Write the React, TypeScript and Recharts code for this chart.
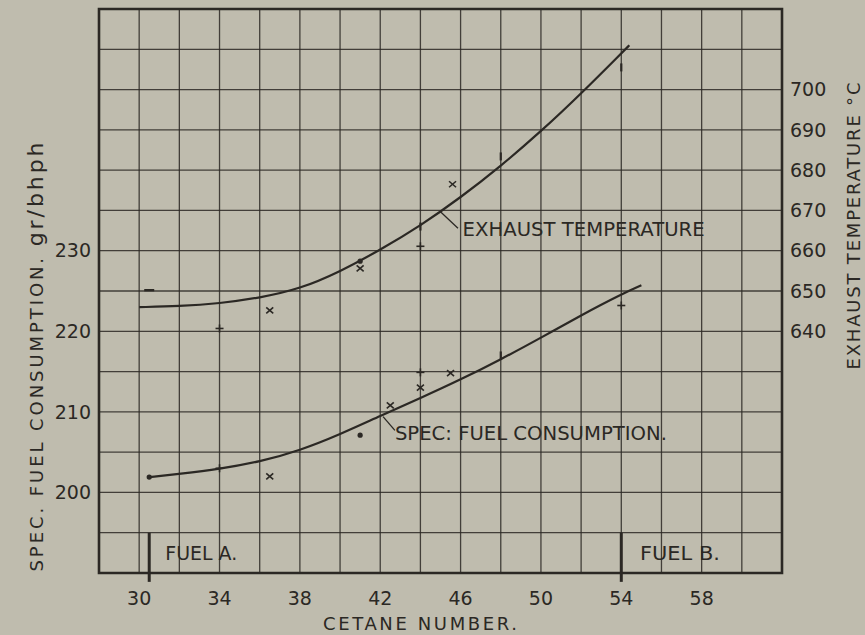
import {
  ComposedChart,
  Line,
  Scatter,
  XAxis,
  YAxis,
  CartesianGrid,
  ReferenceArea,
  ReferenceLine,
  ReferenceDot,
  Label,
} from "recharts";

// axes: grid every 2 cetane units / 5 gr/bhph, labels sparser
const cetaneGrid = [28, 30, 32, 34, 36, 38, 40, 42, 44, 46, 48, 50, 52, 54, 56, 58, 60, 62];
const cetaneLabels = [30, 34, 38, 42, 46, 50, 54, 58];
const sfcGrid = [190, 195, 200, 205, 210, 215, 220, 225, 230, 235, 240, 245, 250, 255, 260];
const sfcLabels = [200, 210, 220, 230];
const tempTicks = [640, 650, 660, 670, 680, 690, 700];

// faired curves
const sfcCurveCetane = [30.5, 32, 34, 36, 38, 40, 42, 44, 46, 48, 50, 52, 54, 55];
const sfcCurveValue = [201.9, 202.3, 202.9, 203.8, 205.2, 207.2, 209.5, 211.7, 214.0, 216.5, 219.2, 222.0, 224.6, 225.7];
const tempCurveCetane = [30, 32, 34, 36, 38, 40, 42, 44, 46, 48, 50, 52, 54, 54.4];
const tempCurveValue = [646.0, 646.2, 646.9, 648.3, 650.5, 654.8, 660.2, 666.2, 673.2, 681.0, 689.6, 699.0, 709.0, 711.0];

// measured points, grouped by the symbol used on the plate
const sfcDotCetane = [30.5, 41];
const sfcDotValue = [201.9, 207.1];
const sfcCrossCetane = [36.5, 42.5, 44, 45.5];
const sfcCrossValue = [202.0, 210.8, 213.0, 214.8];
const sfcPlusCetane = [34, 44, 54];
const sfcPlusValue = [203.0, 214.9, 223.2];
const sfcTickCetane = [48];
const sfcTickValue = [217.0];

const tempDotCetane = [41];
const tempDotValue = [657.4];
const tempCrossCetane = [36.5, 41, 45.6];
const tempCrossValue = [645.2, 655.6, 676.5];
const tempPlusCetane = [34, 44];
const tempPlusValue = [640.7, 661.1];
const tempDashCetane = [30.5];
const tempDashValue = [650.2];
const tempTickCetane = [44, 48, 54];
const tempTickValue = [666.0, 683.4, 705.5];

const fuelA = 30.5;
const fuelB = 54;

const pairs = (xs: number[], ys: number[]) => xs.map((x, i) => ({ x, y: ys[i] }));

const INK = "#2b2824";
const PAPER = "#bfbcae";
const FONT = "'DejaVu Sans', sans-serif";

const Dot = (p: any) => <circle cx={p.cx} cy={p.cy} r={2.6} fill={INK} />;
const Cross = (p: any) => (
  <g stroke={INK} strokeWidth={1.6}>
    <line x1={p.cx - 3.5} y1={p.cy - 3} x2={p.cx + 3.5} y2={p.cy + 3} />
    <line x1={p.cx - 3.5} y1={p.cy + 3} x2={p.cx + 3.5} y2={p.cy - 3} />
  </g>
);
const Plus = (p: any) => (
  <g stroke={INK} strokeWidth={1.6}>
    <line x1={p.cx - 4} y1={p.cy} x2={p.cx + 4} y2={p.cy} />
    <line x1={p.cx} y1={p.cy - 4} x2={p.cx} y2={p.cy + 4} />
  </g>
);
const Tick = (p: any) => (
  <line x1={p.cx} y1={p.cy - 4} x2={p.cx} y2={p.cy + 4} stroke={INK} strokeWidth={2.2} />
);
const Dash = (p: any) => (
  <line x1={p.cx - 5} y1={p.cy} x2={p.cx + 5} y2={p.cy} stroke={INK} strokeWidth={2.4} />
);

const note = (text: string, len: number) => (p: any) => (
  <text
    x={p.cx}
    y={p.cy}
    dy="0.36em"
    fontFamily={FONT}
    fontSize={19}
    fill={INK}
    textLength={len}
    lengthAdjust="spacingAndGlyphs"
  >
    {text}
  </text>
);

const tickStyle = { fontFamily: FONT, fontSize: 19, fill: INK };

export default function App() {
  return (
    <div style={{ position: "absolute", left: 0, top: 0, width: 865, height: 635, background: PAPER }}>
      <ComposedChart width={865} height={635} margin={{ top: 9, right: 0, bottom: 0, left: 0 }}>
        <CartesianGrid stroke={INK} strokeWidth={1.3} strokeOpacity={0.85} />
        <XAxis
          type="number"
          dataKey="x"
          domain={[28, 62]}
          ticks={cetaneGrid}
          interval={0}
          tickFormatter={(v: number) => (cetaneLabels.includes(v) ? String(v) : "")}
          tickLine={false}
          axisLine={false}
          tickMargin={13}
          tick={tickStyle}
          height={62}
          allowDataOverflow
        >
          <Label
            content={() => (
              <text x={323} y={630} fontFamily={FONT} fontSize={18} fill={INK} textLength={194} lengthAdjust="spacing">
                CETANE NUMBER.
              </text>
            )}
          />
        </XAxis>
        <YAxis
          type="number"
          domain={[190, 260]}
          ticks={sfcGrid}
          interval={0}
          tickFormatter={(v: number) => (sfcLabels.includes(v) ? String(v) : "")}
          tickLine={false}
          axisLine={false}
          tick={tickStyle}
          width={99}
          allowDataOverflow
        >
          <Label
            content={() => (
              <text
                transform="translate(43 357) rotate(-90)"
                textAnchor="middle"
                fontFamily={FONT}
                fontSize={18}
                fill={INK}
                textLength={429}
                lengthAdjust="spacing"
              >
                SPEC. FUEL CONSUMPTION. <tspan fontSize={22}>gr/bhph</tspan>
              </text>
            )}
          />
        </YAxis>
        <YAxis
          yAxisId="temp"
          orientation="right"
          type="number"
          domain={[580, 720]}
          ticks={tempTicks}
          interval={0}
          tickLine={false}
          axisLine={false}
          tick={tickStyle}
          width={83}
          allowDataOverflow
        >
          <Label
            content={() => (
              <text
                transform="translate(860 226) rotate(-90)"
                textAnchor="middle"
                fontFamily={FONT}
                fontSize={18}
                fill={INK}
                textLength={287}
                lengthAdjust="spacing"
              >
                EXHAUST TEMPERATURE °C
              </text>
            )}
          />
        </YAxis>

        <ReferenceArea x1={28} x2={62} y1={190} y2={260} fill="none" stroke={INK} strokeWidth={2.6} />

        <ReferenceLine segment={[{ x: fuelA, y: 195 }, { x: fuelA, y: 188.9 }]} stroke={INK} strokeWidth={3} ifOverflow="visible" />
        <ReferenceLine segment={[{ x: fuelB, y: 195 }, { x: fuelB, y: 188.9 }]} stroke={INK} strokeWidth={3} ifOverflow="visible" />
        <ReferenceDot x={31.3} y={192.5} r={0} shape={note("FUEL A.", 72)} />
        <ReferenceDot x={54.93} y={192.5} r={0} shape={note("FUEL B.", 80)} />

        <ReferenceLine segment={[{ x: 44.97, y: 234.9 }, { x: 45.87, y: 232.8 }]} stroke={INK} strokeWidth={1.3} />
        <ReferenceDot x={46.1} y={232.7} r={0} shape={note("EXHAUST TEMPERATURE", 242)} />
        <ReferenceLine segment={[{ x: 42.14, y: 209.4 }, { x: 42.73, y: 207.7 }]} stroke={INK} strokeWidth={1.3} />
        <ReferenceDot x={42.73} y={207.4} r={0} shape={note("SPEC: FUEL CONSUMPTION.", 272)} />

        <Line
          data={pairs(sfcCurveCetane, sfcCurveValue)}
          dataKey="y"
          type="basis"
          stroke={INK}
          strokeWidth={2.2}
          dot={false}
          isAnimationActive={false}
        />
        <Line
          yAxisId="temp"
          data={pairs(tempCurveCetane, tempCurveValue)}
          dataKey="y"
          type="basis"
          stroke={INK}
          strokeWidth={2.2}
          dot={false}
          isAnimationActive={false}
        />

        <Scatter data={pairs(sfcDotCetane, sfcDotValue)} dataKey="y" shape={Dot} isAnimationActive={false} />
        <Scatter data={pairs(sfcCrossCetane, sfcCrossValue)} dataKey="y" shape={Cross} isAnimationActive={false} />
        <Scatter data={pairs(sfcPlusCetane, sfcPlusValue)} dataKey="y" shape={Plus} isAnimationActive={false} />
        <Scatter data={pairs(sfcTickCetane, sfcTickValue)} dataKey="y" shape={Tick} isAnimationActive={false} />

        <Scatter yAxisId="temp" data={pairs(tempDotCetane, tempDotValue)} dataKey="y" shape={Dot} isAnimationActive={false} />
        <Scatter yAxisId="temp" data={pairs(tempCrossCetane, tempCrossValue)} dataKey="y" shape={Cross} isAnimationActive={false} />
        <Scatter yAxisId="temp" data={pairs(tempPlusCetane, tempPlusValue)} dataKey="y" shape={Plus} isAnimationActive={false} />
        <Scatter yAxisId="temp" data={pairs(tempDashCetane, tempDashValue)} dataKey="y" shape={Dash} isAnimationActive={false} />
        <Scatter yAxisId="temp" data={pairs(tempTickCetane, tempTickValue)} dataKey="y" shape={Tick} isAnimationActive={false} />
      </ComposedChart>
    </div>
  );
}
